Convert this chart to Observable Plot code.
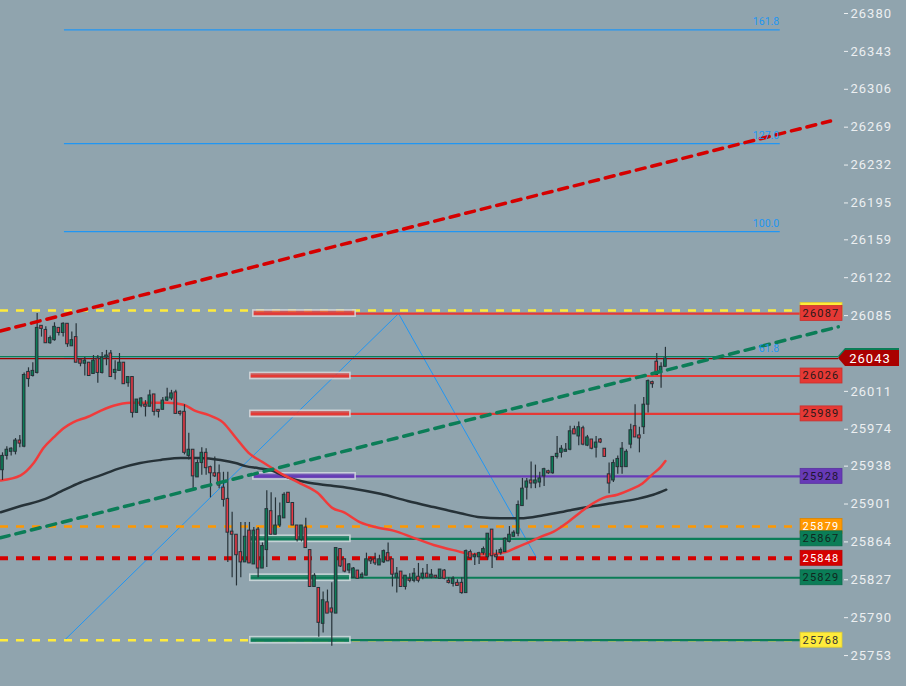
<!DOCTYPE html>
<html><head><meta charset="utf-8">
<script src="https://cdn.jsdelivr.net/npm/d3@7"></script>
<script src="https://cdn.jsdelivr.net/npm/@observablehq/plot@0.6"></script>
<style>
html,body{margin:0;padding:0;background:#90a4ae;overflow:hidden;}
#chart svg{display:block;}
#chart g[aria-label="y-axis tick label"] text{letter-spacing:1px;}
</style></head><body><div id="chart"></div>
<script>
// ---- candle data (index = bar number) ----
const opens  = [25934,25948,25952,25952,25963,25957,26030,26026,26029,26075,26071,26058,26061,26073,26068,26077,26055,26064,26042,26038,26039,26028,26043,26029,26044,26048,26029,26031,26039,26019,26025,25990,25997,25998,25996,26008,25993,25993,26002,26004,26010,25991,25991,25948,25954,25927,25941,25951,25937,25931,25931,25917,25906,25874,25871,25854,25844,25875,25842,25876,25838,25856,25894,25871,25880,25887,25912,25902,25880,25866,25878,25856,25820,25819,25784,25805,25799,25794,25857,25847,25836,25829,25836,25829,25831,25847,25847,25841,25844,25853,25847,25829,25835,25820,25828,25826,25830,25829,25833,25829,25831,25828,25836,25826,25823,25824,25824,25814,25854,25849,25849,25853,25849,25876,25851,25853,25854,25864,25869,25872,25899,25917,25924,25921,25922,25928,25933,25931,25947,25951,25952,25954,25974,25967,25975,25958,25964,25956,25964,25955,25930,25924,25937,25937,25937,25959,25977,25968,25976,25998,26020,26040,26029,26035];
const highs  = [25951,25957,25956,25965,25968,26029,26034,26039,26087,26075,26074,26065,26078,26073,26078,26077,26069,26077,26042,26044,26039,26046,26046,26049,26051,26051,26041,26048,26039,26025,26025,26003,26005,26002,26012,26008,25993,26005,26014,26012,26012,25992,25998,25970,25954,25944,25956,25955,25938,25947,25939,25932,25932,25893,25871,25883,25883,25883,25878,25878,25863,25914,25912,25907,25902,25912,25912,25902,25880,25880,25887,25856,25833,25819,25815,25817,25824,25858,25857,25847,25843,25839,25836,25834,25853,25849,25853,25851,25856,25863,25847,25839,25835,25831,25833,25838,25843,25838,25842,25837,25831,25837,25837,25829,25830,25827,25829,25856,25856,25853,25854,25859,25872,25876,25856,25858,25868,25879,25875,25904,25926,25926,25942,25939,25932,25936,25934,25947,25967,25958,25960,25977,25977,25981,25977,25968,25964,25967,25965,25955,25941,25944,25948,25961,25954,25979,25998,25976,26005,26022,26021,26048,26039,26054];
const lows   = [25924,25944,25948,25949,25956,25956,26015,26025,26028,26064,26058,26057,26060,26065,26064,26054,26055,26039,26035,26026,26026,26028,26019,26028,26036,26025,26022,26031,26018,26015,25985,25990,25995,25986,25996,25987,25985,25993,26001,26002,25989,25987,25949,25944,25914,25927,25929,25929,25907,25927,25916,25898,25844,25829,25821,25829,25844,25843,25842,25829,25838,25839,25871,25871,25878,25887,25902,25880,25864,25864,25858,25820,25820,25771,25775,25794,25762,25794,25839,25834,25833,25829,25828,25828,25831,25842,25841,25841,25843,25845,25820,25814,25820,25817,25824,25824,25824,25827,25829,25828,25828,25828,25827,25823,25820,25821,25813,25814,25847,25841,25842,25851,25846,25838,25846,25851,25854,25863,25869,25869,25899,25905,25916,25916,25917,25918,25930,25930,25945,25946,25952,25953,25969,25958,25958,25957,25954,25946,25960,25947,25911,25922,25930,25930,25937,25955,25966,25951,25969,25990,26014,26027,26014,26035];
const closes = [25948,25954,25955,25963,25960,26027,26023,26031,26073,26072,26058,26063,26074,26068,26077,26057,26061,26039,26038,26041,26026,26041,26029,26044,26046,26025,26032,26039,26018,26025,25990,26003,26004,25996,26007,25991,25991,26002,26005,26009,25989,25989,25951,25954,25928,25941,25951,25936,25931,25928,25919,25905,25873,25871,25851,25844,25869,25843,25875,25838,25860,25896,25871,25880,25889,25910,25902,25880,25866,25880,25858,25820,25831,25785,25807,25794,25795,25858,25840,25835,25842,25838,25828,25832,25847,25845,25843,25847,25855,25845,25832,25833,25820,25831,25826,25833,25826,25833,25829,25832,25829,25837,25828,25824,25828,25821,25814,25855,25848,25851,25853,25857,25872,25850,25849,25856,25867,25871,25873,25900,25916,25923,25921,25924,25926,25935,25931,25947,25950,25955,25954,25972,25969,25976,25959,25966,25955,25961,25961,25947,25921,25941,25945,25955,25952,25973,25966,25965,25998,26021,26018,26027,26035,26043];

// ---- moving averages sampled from the chart: [bar, price] ----
const maFastBars   = [-0.4,4.2,7.2,9.5,11.8,14.1,16.4,19.6,22.6,25.6,29.5,34.2,38.1,41.8,44.5,47.5,50.8,53.8,56.8,60,64.2,68.8,72.7,76.2,78.7,82.6,86.5,90.2,94.9,99.5,104.1,108.7,112.6,116.1,118.9,121.2,124.2,127.2,130.4,133.4,136.4,138.7,141.9,144.9,147.7,150,151.9,153];
const maFastValues = [25924,25929,25941,25956,25966,25975,25981,25986,25992,25997,26000,26000,26000,25998,25992,25988,25981,25966,25951,25942,25931,25921,25912,25897,25893,25883,25878,25875,25868,25861,25856,25852,25852,25854,25859,25863,25869,25874,25883,25893,25902,25907,25910,25915,25921,25930,25937,25943];
const maSlowBars   = [-0.4,4.2,9.9,13.4,18,22.6,27.2,31.8,36.5,41.1,45.7,50.3,53.8,56.1,59.1,61.9,65.8,70.4,75.7,81,87.2,93.5,99.5,105.7,110.3,114.9,119.5,124.9,131.1,136.4,141,146.5,150.2,153.2];
const maSlowValues = [25893,25899,25906,25913,25922,25929,25936,25941,25944,25946,25946,25944,25941,25938,25936,25934,25927,25922,25919,25916,25911,25904,25898,25892,25888,25887,25887,25890,25895,25899,25902,25906,25910,25915];

// ---- drawings ----
const trendRedBars   = [-0.5, 191.1];
const trendRedPrices = [26070, 26275];
const trendGreenBars   = [-0.5, 192.9];
const trendGreenPrices = [25868, 26074];
const zigBars   = [14.3, 91.4, 123.2];
const zigPrices = [25768, 26087, 25849];
const fibPrices = [26045, 26167, 26253, 26364];
const fibLabels = ["61.8", "100.0", "127.0", "161.8"];
const fibStartBar = 14.3, fibEndBar = 179.5;

// levels drawn from a zone box to the price tags
const zoneLevels = [26087, 26026, 25989, 25928, 25867, 25829, 25768];
const zoneStartBars = [57.9, 57.2, 57.2, 57.9, 57.2, 57.2, 57.2];
const zoneEndBars   = [81.5, 80.3, 80.3, 81.5, 80.3, 80.3, 80.3];
const levelEndBar = 184.2;
// full-width dashed levels
const dashedLevels = [26090, 25879, 25848, 25768];
const currentPrice = 26043, currentGreen = 26045;

// price tags on the right (the yellow 26090 tag sits mostly hidden behind 26087)
const tagPrices = [26090, 26087, 26026, 25989, 25928, 25879, 25867, 25848, 25829, 25768];
const tagShowText = [false, true, true, true, true, true, true, true, true, true];
const yTicks = [26380,26343,26306,26269,26232,26195,26159,26122,26085,26011,25974,25938,25901,25864,25827,25790,25753];

// ---- styles ----
const BG = "#90a4ae", RED = "#e53935", DRED = "#d50000", GREEN = "#0b7d57", PURPLE = "#673ab7",
      ORANGE = "#ff9800", YELLOW = "#ffeb3b", BLUE = "#2196f3", DARK = "#263238";
const zoneColors = [RED, RED, RED, PURPLE, GREEN, GREEN, GREEN];
const dashedColors = [YELLOW, ORANGE, DRED, YELLOW];
const dashedWidths = [2.5, 2.5, 4, 2.5];
const tagFill = [YELLOW, RED, RED, RED, PURPLE, ORANGE, GREEN, DRED, GREEN, YELLOW];
const tagText = ["#333", "#2b1a1a", "#2b1a1a", "#2b1a1a", "#1e1530", "#fff", "#10261e", "#fff", "#10261e", "#333"];

const candles = opens.map((o, i) => ({i, o, h: highs[i], l: lows[i], c: closes[i]}));
const maFast = maFastBars.map((b, k) => ({b, v: maFastValues[k]}));
const maSlow = maSlowBars.map((b, k) => ({b, v: maSlowValues[k]}));
const zig = zigBars.map((b, k) => ({b, v: zigPrices[k]}));
const zones = zoneLevels.map((p, k) => ({p, s: zoneStartBars[k], e: zoneEndBars[k], color: zoneColors[k]}));
const dashed = dashedLevels.map((p, k) => ({p, color: dashedColors[k], w: dashedWidths[k]}));
const fibs = fibPrices.map((p, k) => ({p, label: fibLabels[k]}));

const X0 = -0.46, X1 = 194.1;
const boxHalf = 3; // price units

const chart = Plot.plot({
  width: 906, height: 686,
  marginLeft: 0, marginRight: 63, marginTop: 0, marginBottom: 0,
  style: {background: BG, color: "#eceff1", fontFamily: "Roboto, sans-serif", overflow: "visible"},
  x: {domain: [X0, X1], axis: null},
  y: {domain: [25722.8, 26392.7], axis: null},
  marks: [
    Plot.ruleY(fibs, {y: "p", x1: fibStartBar, x2: fibEndBar, stroke: BLUE, strokeWidth: 1.3}),
    Plot.line(zig, {x: "b", y: "v", stroke: BLUE, strokeWidth: 1}),
    ...dashed.map(d => Plot.ruleY([d.p], {x1: X0, x2: levelEndBar, stroke: d.color, strokeWidth: d.w, strokeDasharray: "8,8"})),
    Plot.ruleY([currentGreen], {x1: X0, x2: 193, stroke: GREEN, strokeWidth: 1.3}),
    Plot.ruleY([currentPrice], {x1: X0, x2: 193, stroke: "#9b0000", strokeWidth: 1.3}),
    Plot.ruleY(zones, {y: "p", x1: "s", x2: levelEndBar, stroke: "color", strokeWidth: 2.2}),
    Plot.rect(zones, {x1: "s", x2: "e", y1: d => d.p - boxHalf, y2: d => d.p + boxHalf, fill: "color", fillOpacity: 0.7, stroke: "#d5dde0", strokeOpacity: 0.85, strokeWidth: 1.6}),
    Plot.line(maSlow, {x: "b", y: "v", stroke: DARK, strokeWidth: 2.5, curve: "monotone-x"}),
    Plot.line(maFast, {x: "b", y: "v", stroke: "#f03b3b", strokeWidth: 2.5, curve: "monotone-x"}),
    Plot.ruleX(candles, {x: "i", y1: "l", y2: "h", stroke: DARK, strokeWidth: 1.2}),
    Plot.rect(candles, {x1: d => d.i - 0.3, x2: d => d.i + 0.3, y1: "o", y2: "c",
      fill: d => d.c >= d.o ? GREEN : "#e63946", stroke: DARK, strokeWidth: 1}),
    Plot.line(trendRedBars.map((b, k) => ({b, v: trendRedPrices[k]})), {x: "b", y: "v", stroke: "#d50000", strokeWidth: 3.5, strokeDasharray: "9,7"}),
    Plot.line(trendGreenBars.map((b, k) => ({b, v: trendGreenPrices[k]})), {x: "b", y: "v", stroke: GREEN, strokeWidth: 3.5, strokeDasharray: "9,7"}),
    Plot.text(fibs, {x: fibEndBar, y: "p", text: "label", textAnchor: "end", dx: -1, dy: -8, fill: BLUE, fontSize: 10.5}),
    Plot.axisY(yTicks, {anchor: "right", tickSize: 4, tickPadding: 3, fontSize: 13, tickFormat: d => String(d)})
  ]
});
document.getElementById("chart").appendChild(chart);

// ---- price tags drawn with the plot's scales ----
const ys = chart.scale("y"), xs = chart.scale("x");
const svg = d3.select(chart);
const g = svg.append("g").attr("font-family", "Roboto, sans-serif");
const tx1 = xs.apply(levelEndBar), tx2 = xs.apply(X1) - 1;
tagPrices.forEach((p, k) => {
  const yc = ys.apply(p);
  g.append("rect").attr("x", tx1).attr("y", yc - 7.5).attr("width", tx2 - tx1).attr("height", 15)
    .attr("fill", tagFill[k]).attr("stroke", d3.color(tagFill[k]).darker(0.4)).attr("stroke-width", 0.8);
  if (tagShowText[k]) g.append("text").attr("x", (tx1 + tx2) / 2).attr("y", yc).attr("dy", "0.35em")
    .attr("text-anchor", "middle").attr("font-size", 11).attr("letter-spacing", "1.2px")
    .attr("fill", tagText[k]).text(String(p));
});
[[currentGreen, GREEN], [currentPrice, "#aa0000"]].forEach(([p, col]) => {
  const yc = ys.apply(p), x0 = xs.apply(X1) - 5, x1 = x0 + 7, x2 = 899;
  g.append("path").attr("d", `M${x0},${yc}L${x1},${yc - 8}L${x2},${yc - 8}L${x2},${yc + 8}L${x1},${yc + 8}Z`).attr("fill", col);
});
{
  const yc = ys.apply(currentPrice);
  g.append("text").attr("x", 870).attr("y", yc).attr("dy", "0.36em").attr("text-anchor", "middle")
    .attr("font-size", 13).attr("letter-spacing", "1px").attr("fill", "#fff").text(String(currentPrice));
}
</script>
</body></html>
